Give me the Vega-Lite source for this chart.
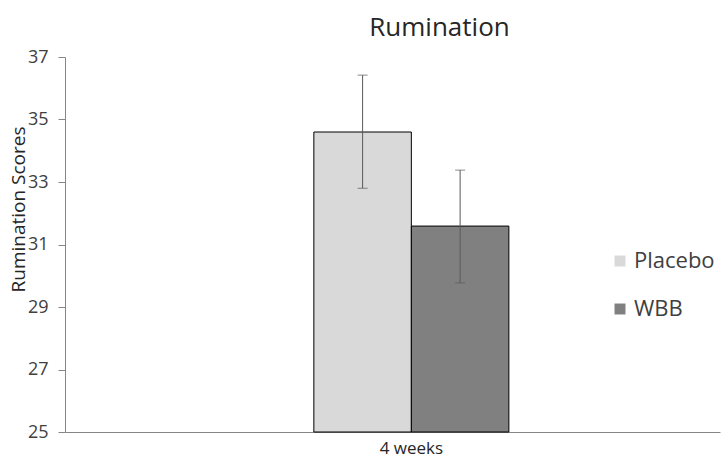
{
  "$schema": "https://vega.github.io/schema/vega-lite/v6.json",
  "autosize": {"type": "none"},
  "padding": {"left": 65, "top": 57, "right": 4, "bottom": 36},
  "width": 655,
  "height": 375,
  "background": "white",
  "config": {
    "font": "Open Sans",
    "view": {"stroke": null}
  },
  "title": {
    "text": "Rumination",
    "fontSize": 26,
    "fontWeight": "normal",
    "color": "#262626",
    "dx": 47,
    "offset": 7
  },
  "data": {
    "values": [
      {"week": "4 weeks", "group": "Placebo", "mean": 34.6, "lo": 32.8, "hi": 36.42},
      {"week": "4 weeks", "group": "WBB", "mean": 31.59, "lo": 29.77, "hi": 33.38}
    ]
  },
  "encoding": {
    "x": {
      "field": "week",
      "type": "nominal",
      "scale": {"paddingInner": 0.152, "paddingOuter": 1, "align": 0.541},
      "axis": {
        "title": null,
        "labelAngle": 0,
        "ticks": false,
        "labelFontSize": 17,
        "labelColor": "#262626",
        "labelPadding": 8,
        "domainColor": "#868686"
      }
    },
    "xOffset": {
      "field": "group",
      "type": "nominal",
      "scale": {"paddingInner": 0, "paddingOuter": 0}
    }
  },
  "layer": [
    {
      "mark": {"type": "bar", "stroke": "#000000", "strokeWidth": 1},
      "encoding": {
        "y": {
          "field": "mean",
          "type": "quantitative",
          "scale": {"domain": [25, 37], "nice": false, "zero": false},
          "axis": {
            "values": [25, 27, 29, 31, 33, 35, 37],
            "grid": false,
            "tickSize": 7,
            "tickColor": "#868686",
            "domainColor": "#868686",
            "labelFontSize": 18,
            "labelColor": "#404040",
            "labelPadding": 10,
            "title": "Rumination Scores",
            "titleFontSize": 19,
            "titleFontWeight": "normal",
            "titleColor": "#262626",
            "titlePadding": -1,
            "titleY": 152
          }
        },
        "y2": {"datum": 25},
        "color": {
          "field": "group",
          "type": "nominal",
          "scale": {"domain": ["Placebo", "WBB"], "range": ["#d9d9d9", "#808080"]},
          "legend": {
            "title": null,
            "orient": "none",
            "legendX": 544,
            "legendY": 193,
            "symbolType": "square",
            "symbolSize": 120,
            "symbolStrokeWidth": 0,
            "labelFontSize": 22,
            "labelColor": "#404040",
            "rowPadding": 26,
            "labelOffset": 3,
            "labelLimit": 200
          }
        }
      }
    },
    {
      "mark": {"type": "rule", "color": "#595959", "strokeWidth": 1},
      "encoding": {
        "y": {"field": "lo", "type": "quantitative"},
        "y2": {"field": "hi"}
      }
    },
    {
      "mark": {"type": "tick", "color": "#595959", "thickness": 1, "size": 10},
      "encoding": {"y": {"field": "lo", "type": "quantitative"}}
    },
    {
      "mark": {"type": "tick", "color": "#595959", "thickness": 1, "size": 10},
      "encoding": {"y": {"field": "hi", "type": "quantitative"}}
    }
  ]
}
